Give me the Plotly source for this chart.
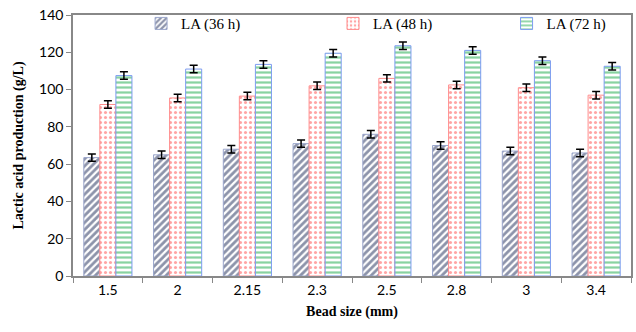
import plotly.graph_objects as go

categories = ["1.5", "2", "2.15", "2.3", "2.5", "2.8", "3", "3.4"]
la36 = [63.5, 65, 68, 71, 76, 70, 67, 66]
la48 = [92, 95.5, 96.5, 102, 106, 102.5, 101, 97]
la72 = [107.5, 111, 113.5, 119.5, 123.5, 121, 115.5, 112.5]
err36 = [2, 2, 2, 2, 2, 2, 2, 2]
err48 = [2, 2, 2, 2, 2, 2, 2, 2]
err72 = [2, 2, 2, 2, 2, 2, 2, 2]

series = [
    ("LA (36 h)", la36, err36, "/", "#1a2755", "#9aa6cc", 5, 0.55, "legend", 0.122),
    ("LA (48 h)", la48, err48, ".", "#ff4a4a", "#ff8c8c", 5, 0.3, "legend2", 0.466),
    ("LA (72 h)", la72, err72, "-", "#14a844", "#7c9cf0", 5, 0.45, "legend3", 0.777),
]

fig = go.Figure()
for name, vals, errs, shape, fg, border, size, sol, leg, lx in series:
    fig.add_trace(go.Bar(
        x=categories, y=vals, name=name, legend=leg, showlegend=True,
        marker=dict(
            color="white",
            line=dict(color=border, width=1),
            pattern=dict(shape=shape, fgcolor=fg, bgcolor="white",
                         size=size, solidity=sol, fillmode="overlay"),
        ),
        error_y=dict(type="data", array=errs, color="black", thickness=1.5, width=4),
    ))

legend_common = dict(y=1.03, xanchor="left", yanchor="top", bgcolor="rgba(0,0,0,0)",
                     font=dict(family="Liberation Serif", size=15, color="black"),
                     itemwidth=30, tracegroupgap=0)

fig.update_layout(
    width=636, height=332,
    margin=dict(l=73, r=3, t=15, b=56),
    paper_bgcolor="white", plot_bgcolor="white",
    showlegend=True,
    barmode="group", bargap=0.31, bargroupgap=0,
    font=dict(family="Lato", size=14, color="black"),
    legend=dict(x=series[0][9], **legend_common),
    legend2=dict(x=series[1][9], **legend_common),
    legend3=dict(x=series[2][9], **legend_common),
    xaxis=dict(
        title=dict(text="<b>Bead size (mm)</b>", font=dict(family="Liberation Serif", size=14), standoff=10),
        showline=True, linecolor="#888888", linewidth=1.5, mirror=True,
        ticks="outside", tickson="boundaries", ticklen=5, tickcolor="#888888",
        showgrid=False, tickfont=dict(family="Lato", size=14),
    ),
    yaxis=dict(
        title=dict(text="<b>Lactic acid production (g/L)</b>", font=dict(family="Liberation Serif", size=14), standoff=12),
        range=[0, 140], dtick=20,
        showline=True, linecolor="#888888", linewidth=1.5, mirror=True,
        ticks="outside", ticklen=5, tickcolor="#888888",
        showgrid=False, zeroline=False, tickfont=dict(family="Lato", size=14),
    ),
)

fig.write_html("out.html")
